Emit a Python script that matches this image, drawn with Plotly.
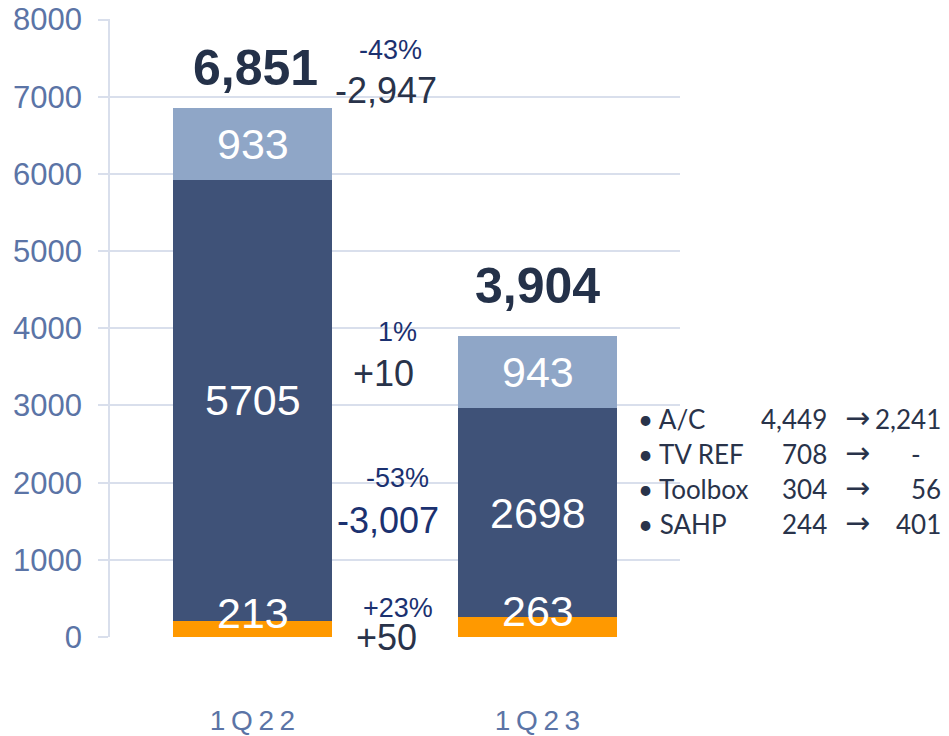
import plotly.graph_objects as go

categories = ["1Q22", "1Q23"]
tick_text = ["1\u2009Q\u20092\u20092", "1\u2009Q\u20092\u20093"]
orange_vals = [213, 263]
dark_vals = [5705, 2698]
light_vals = [933, 943]
totals = [6851, 3904]
total_labels = ["6,851", "3,904"]

total_change = "-2,947"
total_pct = "-43%"
light_change, light_pct = "+10", "1%"
dark_change, dark_pct = "-3,007", "-53%"
orange_change, orange_pct = "+50", "+23%"

products = ["A/C", "TV REF", "Toolbox", "SAHP"]
prod_before = ["4,449", "708", "304", "244"]
prod_after = ["2,241", "-\u00a0\u00a0\u00a0", "56", "401"]

C_ORANGE = "#FF9900"
C_DARK = "#3F5278"
C_LIGHT = "#8FA6C7"
C_GRID = "#D9DFEC"
C_TICK = "#5B74A6"
C_TEXT = "#29334A"
C_NAVY = "#1B3170"

# page has an 8px body margin; plot area should land at x 110-680, y 19-637
OFF = 8
W, H = 949, 736
L, T = 110 - OFF, 19 - OFF
R = W - (680 - OFF)
B = H - (637 - OFF)
PW, PH = W - L - R, H - T - B

fig = go.Figure()
for vals, col in [(orange_vals, C_ORANGE), (dark_vals, C_DARK), (light_vals, C_LIGHT)]:
    fig.add_trace(go.Bar(x=categories, y=vals, marker=dict(color=col, line=dict(width=0)),
                         width=0.555, hoverinfo="skip"))

ann = []
FONT = "Arial, Liberation Sans, sans-serif"
total_shift = [10, 20]
for i, c in enumerate(categories):
    base = 0
    for vals, ys in [(orange_vals, 16), (dark_vals, 0), (light_vals, 0)]:
        mid = base + vals[i] / 2
        ann.append(dict(x=i, y=mid, xref="x", yref="y", text=str(vals[i]), showarrow=False,
                        yshift=ys, font=dict(family=FONT, size=43, color="white")))
        base += vals[i]
    ann.append(dict(x=i + 0.01 * (1 - i), y=totals[i], xref="x", yref="y",
                    text="<b>%s</b>" % total_labels[i],
                    showarrow=False, yanchor="bottom", yshift=total_shift[i],
                    font=dict(family=FONT, size=50, color="#243149")))


def mid_pair(pct, chg, y_pct, y_chg, chg_color, xp=0.51, xc=0.47):
    ann.append(dict(x=xp, y=y_pct, xref="x", yref="y", text=pct, showarrow=False,
                    font=dict(family=FONT, size=27, color=C_NAVY)))
    ann.append(dict(x=xc, y=y_chg, xref="x", yref="y", text=chg, showarrow=False,
                    font=dict(family=FONT, size=36, color=chg_color)))


mid_pair(total_pct, total_change, 7600, 7080, C_TEXT, xp=0.485, xc=0.47)
mid_pair(light_pct, light_change, 3950, 3420, C_TEXT, xp=0.51, xc=0.46)
mid_pair(dark_pct, dark_change, 2060, 1515, C_NAVY, xp=0.51, xc=0.475)
mid_pair(orange_pct, orange_change, 370, 0, C_TEXT, xp=0.51, xc=0.47)

PF = "Lato, Noto Sans, sans-serif"
line_y = [437, 472, 507, 542]
for k, p in enumerate(products):
    yp = 1 - (line_y[k] - 19) / PH
    ann.append(dict(x=(636 - 110) / PW, y=yp, xref="paper", yref="paper", text="\u2022 " + p,
                    xanchor="left", showarrow=False, font=dict(family=PF, size=26, color=C_TEXT)))
    ann.append(dict(x=(829 - 110) / PW, y=yp, xref="paper", yref="paper", text=prod_before[k],
                    xanchor="right", showarrow=False, font=dict(family=PF, size=26, color=C_TEXT)))
    ann.append(dict(x=(857 - 110) / PW, y=yp, xref="paper", yref="paper", text="\u2192",
                    xanchor="center", showarrow=False,
                    font=dict(family="DejaVu Sans, sans-serif", size=30, color=C_TEXT)))
    ann.append(dict(x=(943 - 110) / PW, y=yp, xref="paper", yref="paper", text=prod_after[k],
                    xanchor="right", showarrow=False, font=dict(family=PF, size=26, color=C_TEXT)))

fig.update_layout(
    width=W, height=H,
    margin=dict(l=L, r=R, t=T, b=B),
    barmode="stack", showlegend=False,
    plot_bgcolor="white", paper_bgcolor="white",
    annotations=ann,
    xaxis=dict(tickmode="array", tickvals=categories, ticktext=tick_text, showgrid=False,
               zeroline=False, showline=False, ticks="", automargin=False,
               tickfont=dict(family=FONT, size=28, color=C_TICK), ticklabelstandoff=64,
               range=[-0.5, 1.5]),
    yaxis=dict(range=[0, 8008], dtick=1000, tick0=0, showgrid=True, gridcolor=C_GRID, gridwidth=1.5,
               showline=True, linecolor=C_GRID, linewidth=1.5, ticks="outside", ticklen=10,
               tickcolor=C_GRID, tickwidth=1.5, zeroline=False, automargin=False,
               ticklabeloverflow="allow",
               tickfont=dict(family=FONT, size=31, color=C_TICK), ticklabelstandoff=10),
)

fig.write_html("out.html")
